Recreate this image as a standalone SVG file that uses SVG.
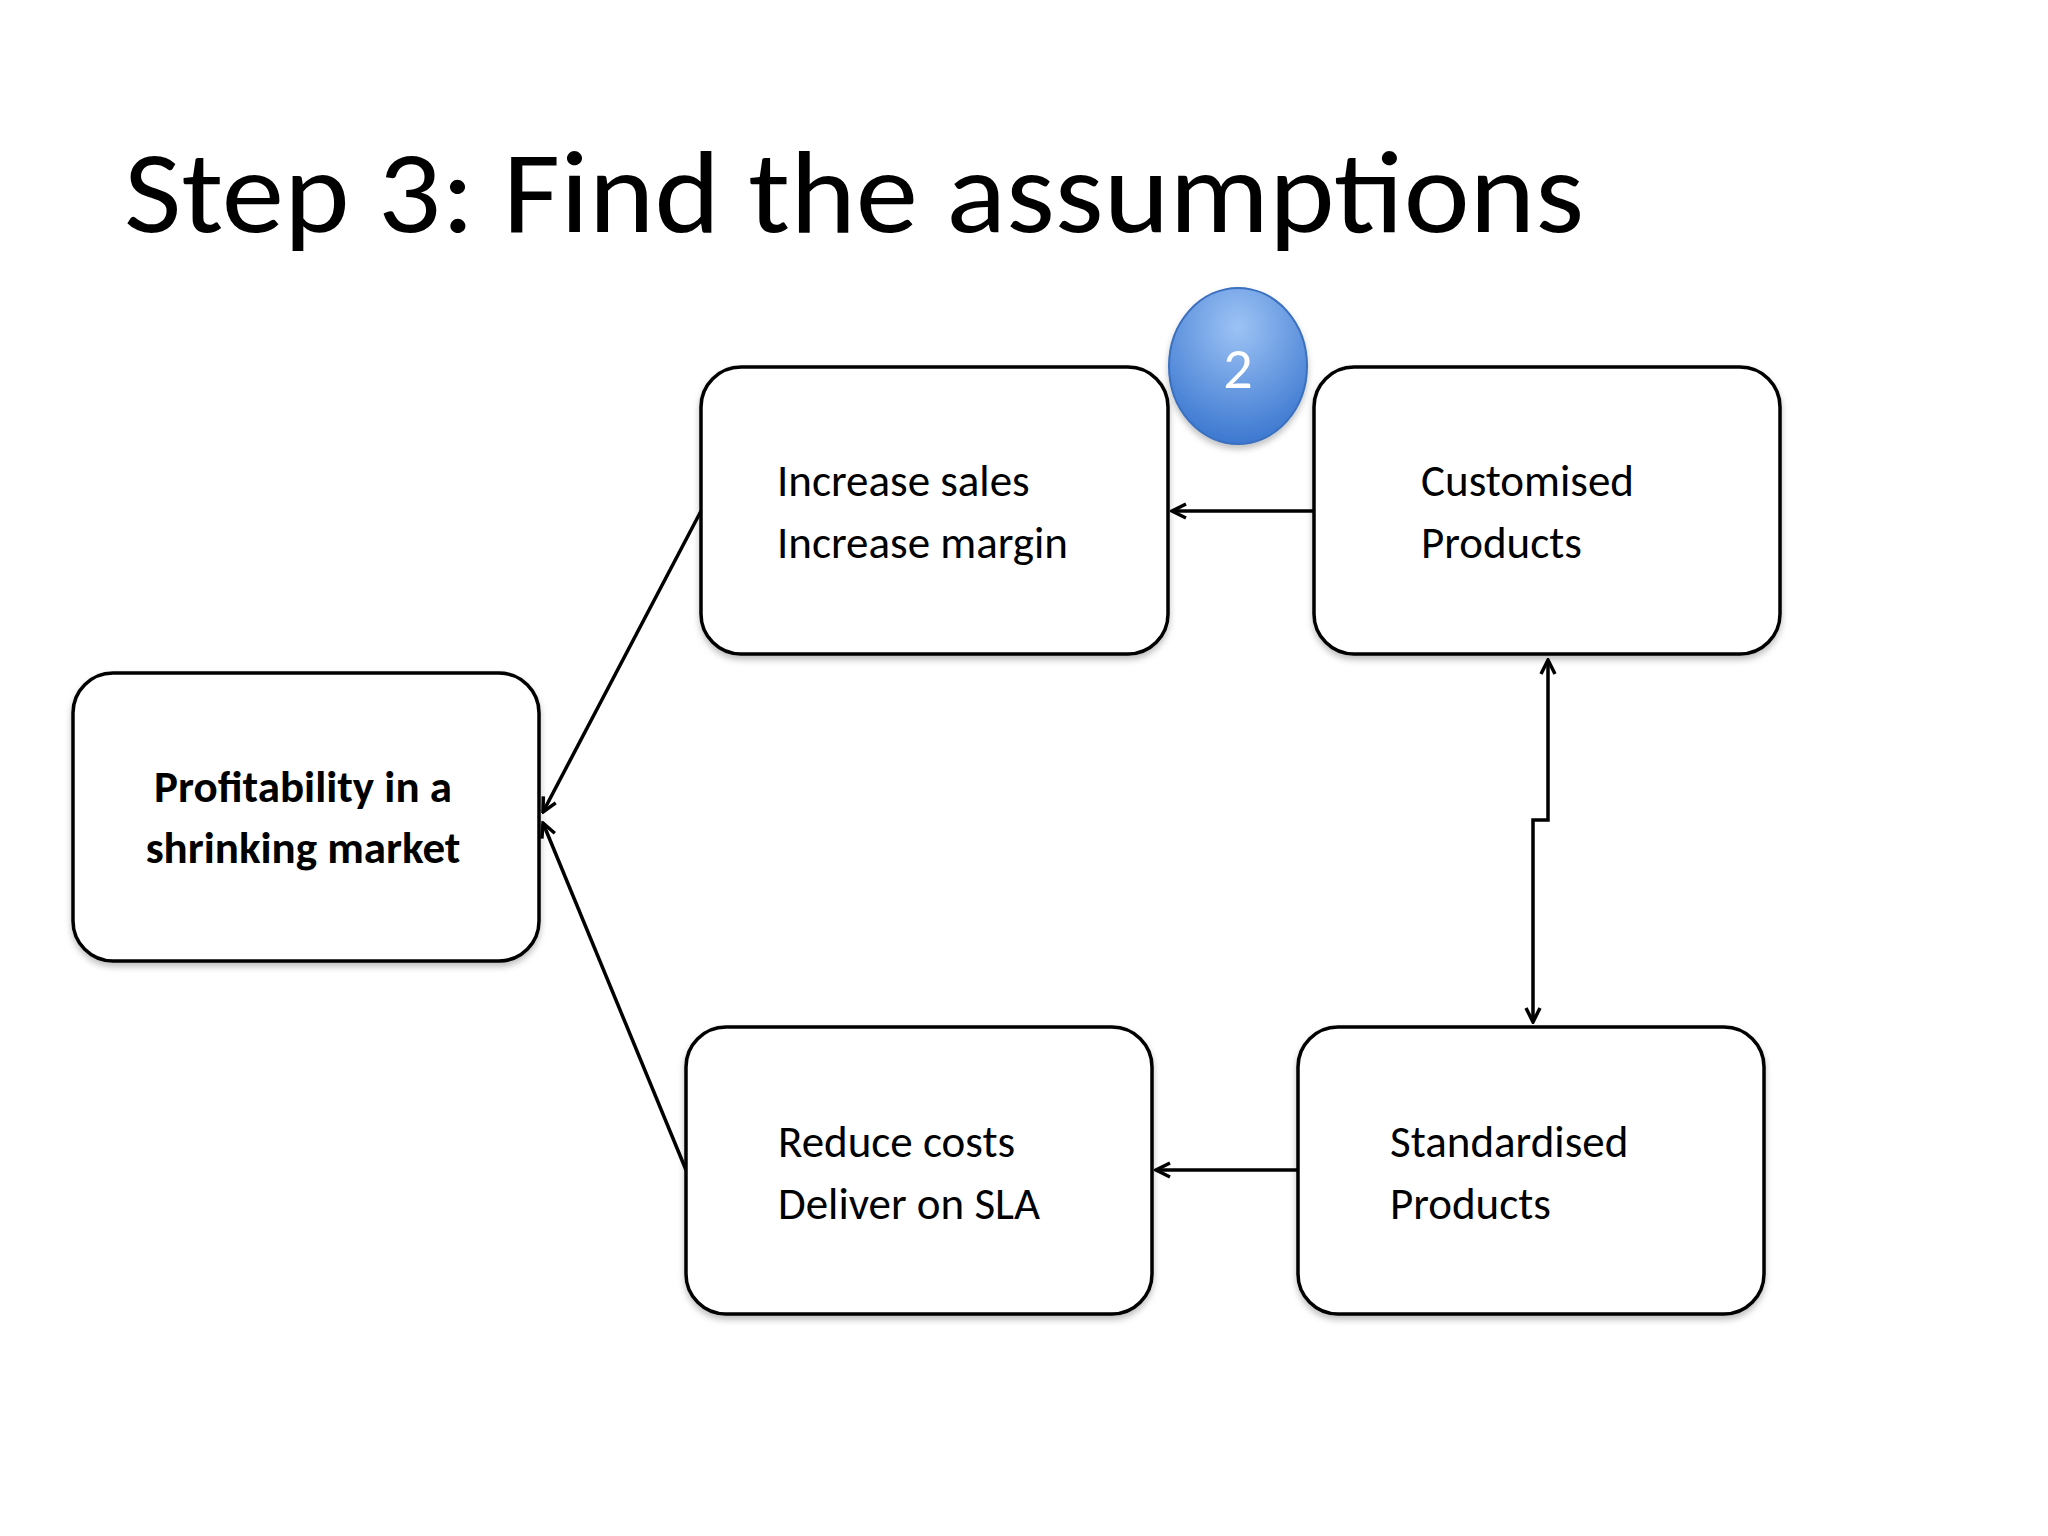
<svg xmlns="http://www.w3.org/2000/svg" width="2048" height="1536" viewBox="0 0 2048 1536">
<style>
.box{fill:#fff;stroke:#000;stroke-width:3.5}
.t{font-family:Calibri,Carlito,"Open Sans","Liberation Sans",sans-serif;font-size:45px;fill:#000}
.c{fill:none;stroke:#000;stroke-width:3.5}
</style>
<defs>
<marker id="ah" viewBox="0 0 20 20" refX="18" refY="10" markerWidth="20" markerHeight="20" markerUnits="userSpaceOnUse" orient="auto-start-reverse">
<polyline points="4,3 18,10 4,17" fill="none" stroke="#000" stroke-width="3.5"/>
</marker>
<filter id="sh" x="-10%" y="-10%" width="120%" height="130%"><feDropShadow dx="0" dy="4" stdDeviation="3" flood-opacity="0.25"/></filter>
<radialGradient id="bg" cx="50%" cy="25%" r="75%"><stop offset="0" stop-color="#9dc3f5"/><stop offset="1" stop-color="#3c78d0"/></radialGradient>
</defs>
<rect width="2048" height="1536" fill="#fff"/>
<text x="124" y="232" font-family="Calibri,Carlito,'Open Sans','Liberation Sans',sans-serif" font-size="118" textLength="1460" lengthAdjust="spacingAndGlyphs">Step 3: Find the assumptions</text>
<g id="connectors">
<line class="c" x1="1314" y1="511" x2="1172" y2="511" marker-end="url(#ah)"/>
<line class="c" x1="1298" y1="1170" x2="1156" y2="1170" marker-end="url(#ah)"/>
<line class="c" x1="701" y1="511" x2="543" y2="812" marker-end="url(#ah)"/>
<line class="c" x1="686" y1="1170" x2="543" y2="823" marker-end="url(#ah)"/>
<polyline class="c" points="1548,660 1548,820 1533,820 1533,1022" marker-start="url(#ah)" marker-end="url(#ah)"/>
</g>
<g id="increase"><rect class="box" filter="url(#sh)" x="701" y="367" width="467" height="287" rx="40"/>
<text class="t" x="777" y="496">Increase sales</text><text class="t" x="777" y="558">Increase margin</text></g>
<g id="customised"><rect class="box" filter="url(#sh)" x="1314" y="367" width="466" height="287" rx="40"/>
<text class="t" x="1421" y="496">Customised</text><text class="t" x="1421" y="558">Products</text></g>
<g id="profitability"><rect class="box" filter="url(#sh)" x="73" y="673" width="466" height="288" rx="40"/>
<text class="t" x="303" y="802" text-anchor="middle" font-weight="bold">Profitability in a</text><text class="t" x="303" y="863" text-anchor="middle" font-weight="bold">shrinking market</text></g>
<g id="reduce"><rect class="box" filter="url(#sh)" x="686" y="1027" width="466" height="287" rx="40"/>
<text class="t" x="778" y="1157">Reduce costs</text><text class="t" x="778" y="1219">Deliver on SLA</text></g>
<g id="standardised"><rect class="box" filter="url(#sh)" x="1298" y="1027" width="466" height="287" rx="40"/>
<text class="t" x="1390" y="1157">Standardised</text><text class="t" x="1390" y="1219">Products</text></g>
<g id="badge"><ellipse cx="1238" cy="366" rx="69" ry="78" fill="url(#bg)" stroke="#3a6fbf" stroke-width="2" filter="url(#sh)"/>
<text x="1238" y="388" text-anchor="middle" font-family="Calibri,Carlito,'Open Sans','Liberation Sans',sans-serif" font-size="58" fill="#fff">2</text></g>
</svg>
